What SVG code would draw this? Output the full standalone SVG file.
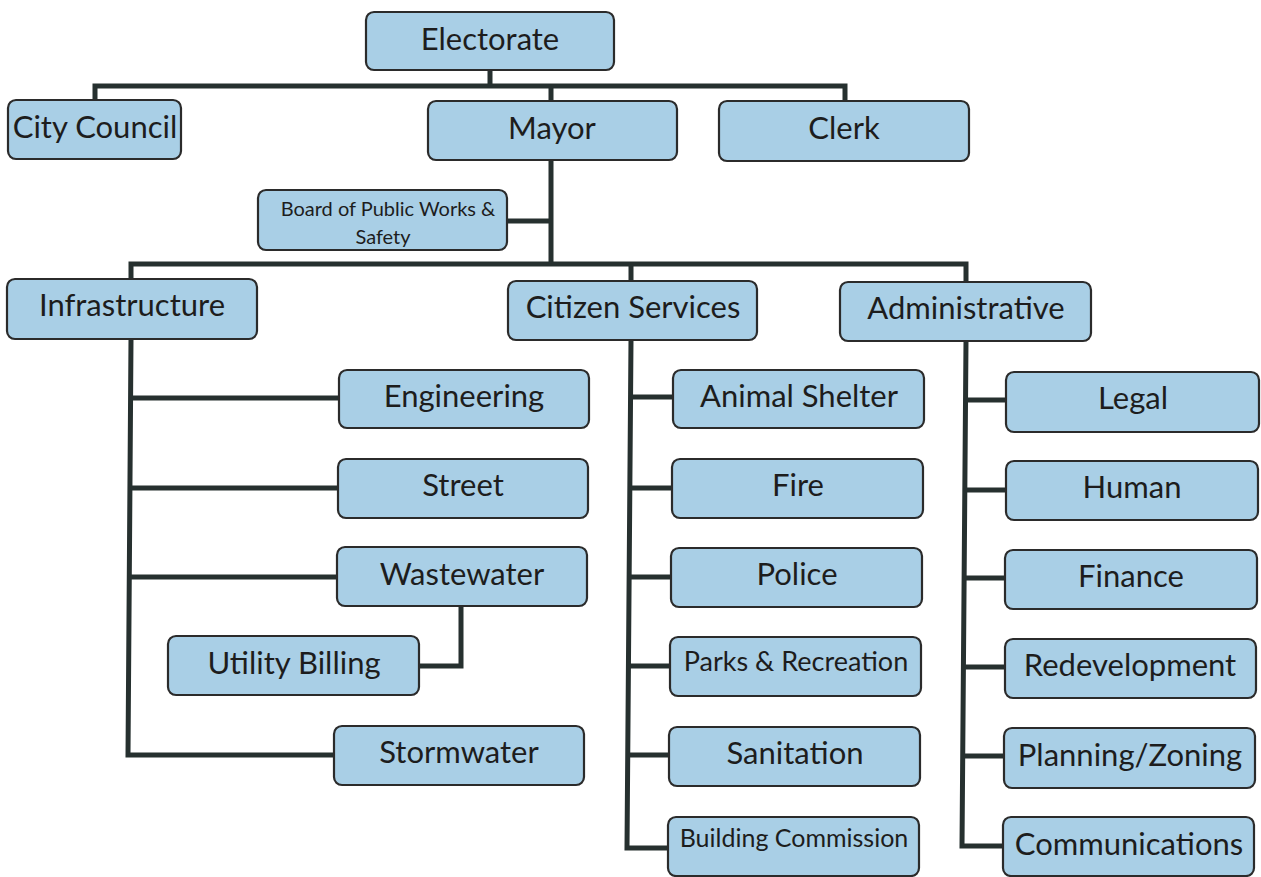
<svg xmlns="http://www.w3.org/2000/svg" width="1261" height="877" viewBox="0 0 1261 877">
<style>
.n rect{fill:#a9cfe6;stroke:#2b2b2b;stroke-width:2.2}
.n text{font-family:Lato,"Open Sans","Liberation Sans",sans-serif;font-size:31px;fill:#1d1d1d;text-anchor:middle;dominant-baseline:central}
.c path{fill:none;stroke:#26302f;stroke-width:5;stroke-linejoin:miter}
</style>
<rect width="1261" height="877" fill="#ffffff"/>
<g class="c">
<path d="M490 70V86M95 100V86H845V102M551 86V102"/>
<path d="M551 160V264M507 221H551"/>
<path d="M131 280V264H966V283M631 264V282"/>
<path d="M131 339L128 755H334M131 398H339M130 488H338M129 577H337"/>
<path d="M461 606V666H419"/>
<path d="M631 340L627 848H668M631 397H673M630 488H672M629 577H671M629 666H670M628 755H669"/>
<path d="M966 341L962 846H1003M966 400H1006M965 490H1006M965 578H1005M964 667H1005M963 756H1004"/>
</g>
<g id="electorate" class="n"><rect x="366" y="12" width="248" height="58" rx="8"/><text x="490" y="38">Electorate</text></g>
<g id="city-council" class="n"><rect x="8" y="100" width="173" height="59" rx="8"/><text x="95" y="126">City Council</text></g>
<g id="mayor" class="n"><rect x="428" y="101" width="249" height="59" rx="8"/><text x="552" y="127">Mayor</text></g>
<g id="clerk" class="n"><rect x="719" y="101" width="250" height="60" rx="8"/><text x="844" y="127">Clerk</text></g>
<g id="board" class="n"><rect x="258" y="190" width="249" height="60" rx="8"/><text x="388" y="208" style="font-size:20px">Board of Public Works &amp;</text><text x="383" y="236" style="font-size:20px">Safety</text></g>
<g id="infrastructure" class="n"><rect x="7" y="279" width="250" height="60" rx="8"/><text x="132" y="304">Infrastructure</text></g>
<g id="citizen-services" class="n"><rect x="508" y="281" width="249" height="59" rx="8"/><text x="633" y="306">Citizen Services</text></g>
<g id="administrative" class="n"><rect x="840" y="282" width="251" height="59" rx="8"/><text x="966" y="307">Administrative</text></g>
<g id="engineering" class="n"><rect x="339" y="370" width="250" height="58" rx="8"/><text x="464" y="395">Engineering</text></g>
<g id="street" class="n"><rect x="338" y="459" width="250" height="59" rx="8"/><text x="463" y="484">Street</text></g>
<g id="wastewater" class="n"><rect x="337" y="547" width="250" height="59" rx="8"/><text x="462" y="573">Wastewater</text></g>
<g id="utility-billing" class="n"><rect x="168" y="636" width="251" height="59" rx="8"/><text x="294" y="662">Utility Billing</text></g>
<g id="stormwater" class="n"><rect x="334" y="726" width="250" height="59" rx="8"/><text x="459" y="751">Stormwater</text></g>
<g id="animal-shelter" class="n"><rect x="673" y="370" width="251" height="58" rx="8"/><text x="799" y="395">Animal Shelter</text></g>
<g id="fire" class="n"><rect x="672" y="459" width="251" height="59" rx="8"/><text x="798" y="484">Fire</text></g>
<g id="police" class="n"><rect x="671" y="548" width="251" height="59" rx="8"/><text x="797" y="573">Police</text></g>
<g id="parks" class="n"><rect x="670" y="637" width="251" height="59" rx="8"/><text x="796" y="660" style="font-size:27px">Parks &amp; Recreation</text></g>
<g id="sanitation" class="n"><rect x="669" y="727" width="251" height="59" rx="8"/><text x="795" y="752">Sanitation</text></g>
<g id="building-commission" class="n"><rect x="668" y="817" width="251" height="59" rx="8"/><text x="794" y="837" style="font-size:25px">Building Commission</text></g>
<g id="legal" class="n"><rect x="1006" y="372" width="253" height="60" rx="8"/><text x="1133" y="397">Legal</text></g>
<g id="human" class="n"><rect x="1006" y="461" width="252" height="59" rx="8"/><text x="1132" y="486">Human</text></g>
<g id="finance" class="n"><rect x="1005" y="550" width="252" height="59" rx="8"/><text x="1131" y="575">Finance</text></g>
<g id="redevelopment" class="n"><rect x="1005" y="639" width="251" height="59" rx="8"/><text x="1130" y="664">Redevelopment</text></g>
<g id="planning" class="n"><rect x="1004" y="728" width="251" height="60" rx="8"/><text x="1130" y="754">Planning/Zoning</text></g>
<g id="communications" class="n"><rect x="1003" y="817" width="251" height="59" rx="8"/><text x="1129" y="843">Communications</text></g>
</svg>
